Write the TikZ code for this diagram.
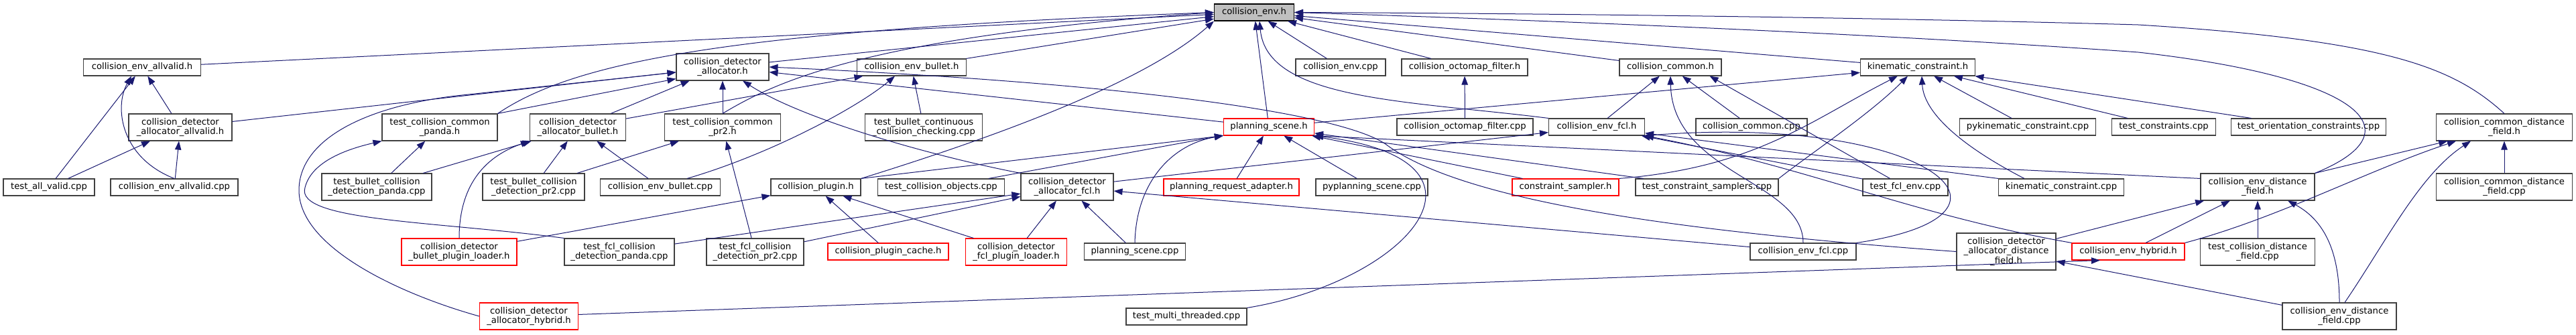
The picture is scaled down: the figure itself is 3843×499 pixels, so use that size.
\documentclass[tikz,border=0pt]{standalone}
\usepackage{fontspec}
\setmainfont{DejaVu Sans}
\usepackage{tikz}
\usetikzlibrary{arrows.meta}
\definecolor{edgeblue}{RGB}{25,25,112}
\definecolor{boxgray}{RGB}{191,191,191}
\definecolor{boxline}{RGB}{64,64,64}
\newcommand{\dxfont}{\fontsize{13.2}{14.5}\selectfont}

\begin{document}
\begin{tikzpicture}[x=1pt,y=-1pt,
  srcbox/.style={draw=boxline,line width=1.1pt,fill=white,inner sep=0pt,minimum height=25pt,align=center,font=\dxfont},
  redbox/.style={srcbox,draw=red},
  rootbox/.style={srcbox,draw=black,fill=boxgray},
  dep/.style={draw=edgeblue,line width=1pt,-{Triangle[length=13pt,width=9.5pt]}}]
\useasboundingbox (0,0) rectangle (3843,499);
% root
\node[rootbox,minimum width=119pt] (envh) at (1871,18.5) {collision\_env.h};
% first row
\node[srcbox,minimum width=175pt] (allvalidh) at (212,100.5) {collision\_env\_allvalid.h};
\node[srcbox,minimum width=138pt,minimum height=40pt] (allocatorh) at (1078,100) {collision\_detector\\\_allocator.h};
\node[srcbox,minimum width=163pt] (bulleth) at (1360,100.5) {collision\_env\_bullet.h};
\node[srcbox,minimum width=134pt] (envcpp) at (2000,100.5) {collision\_env.cpp};
\node[srcbox,minimum width=188pt] (octomaph) at (2185,100.5) {collision\_octomap\_filter.h};
\node[srcbox,minimum width=152pt] (commonh) at (2492,100.5) {collision\_common.h};
\node[srcbox,minimum width=171pt] (kinconh) at (2861,100.5) {kinematic\_constraint.h};
% second row
\node[srcbox,minimum width=154pt,minimum height=40pt] (allocallvalidh) at (269,190) {collision\_detector\\\_allocator\_allvalid.h};
\node[srcbox,minimum width=172pt,minimum height=40pt] (testcommonpandah) at (656,190) {test\_collision\_common\\\_panda.h};
\node[srcbox,minimum width=143pt,minimum height=40pt] (allocbulleth) at (862,190) {collision\_detector\\\_allocator\_bullet.h};
\node[srcbox,minimum width=173pt,minimum height=40pt] (testcommonpr2h) at (1078,190) {test\_collision\_common\\\_pr2.h};
\node[srcbox,minimum width=175pt,minimum height=40pt] (bulletcontcpp) at (1378,190) {test\_bullet\_continuous\\\_collision\_checking.cpp};
\node[redbox,minimum width=135pt] (planningsceneh) at (1893,189.5) {planning\_scene.h};
\node[srcbox,minimum width=203pt] (octomapcpp) at (2185.5,189.5) {collision\_octomap\_filter.cpp};
\node[srcbox,minimum width=143pt] (envfclh) at (2382,189.5) {collision\_env\_fcl.h};
\node[srcbox,minimum width=166pt] (commoncpp) at (2613,189.5) {collision\_common.cpp};
\node[srcbox,minimum width=203pt] (pykincpp) at (3025,189.5) {pykinematic\_constraint.cpp};
\node[srcbox,minimum width=155pt] (testconscpp) at (3228,189.5) {test\_constraints.cpp};
\node[srcbox,minimum width=231pt] (testoriencpp) at (3444,189.5) {test\_orientation\_constraints.cpp};
\node[srcbox,minimum width=203pt,minimum height=40pt] (commondfh) at (3736,190) {collision\_common\_distance\\\_field.h};
% third row
\node[srcbox,minimum width=136pt] (testallvalidcpp) at (73,279.5) {test\_all\_valid.cpp};
\node[srcbox,minimum width=190pt] (allvalidcpp) at (260,279.5) {collision\_env\_allvalid.cpp};
\node[srcbox,minimum width=164pt,minimum height=40pt] (bulletpandacpp) at (562,279) {test\_bullet\_collision\\\_detection\_panda.cpp};
\node[srcbox,minimum width=152pt,minimum height=40pt] (bulletpr2cpp) at (796,279) {test\_bullet\_collision\\\_detection\_pr2.cpp};
\node[srcbox,minimum width=179pt] (envbulletcpp) at (985,279.5) {collision\_env\_bullet.cpp};
\node[srcbox,minimum width=134pt] (pluginh) at (1217,279.5) {collision\_plugin.h};
\node[srcbox,minimum width=189pt] (testobjcpp) at (1404,279.5) {test\_collision\_objects.cpp};
\node[srcbox,minimum width=138pt,minimum height=40pt] (allocfclh) at (1592,279) {collision\_detector\\\_allocator\_fcl.h};
\node[redbox,minimum width=202pt] (requestadapterh) at (1837,279.5) {planning\_request\_adapter.h};
\node[srcbox,minimum width=167pt] (pyscenecpp) at (2046.5,279.5) {pyplanning\_scene.cpp};
\node[redbox,minimum width=159pt] (samplerh) at (2335.5,279.5) {constraint\_sampler.h};
\node[srcbox,minimum width=213pt] (testsamplerscpp) at (2546.5,279.5) {test\_constraint\_samplers.cpp};
\node[srcbox,minimum width=127pt] (testfclenvcpp) at (2842.5,279.5) {test\_fcl\_env.cpp};
\node[srcbox,minimum width=187pt] (kinconcpp) at (3075,279.5) {kinematic\_constraint.cpp};
\node[srcbox,minimum width=170pt,minimum height=40pt] (envdfh) at (3368,279) {collision\_env\_distance\\\_field.h};
\node[srcbox,minimum width=203pt,minimum height=40pt] (commondfcpp) at (3736,279) {collision\_common\_distance\\\_field.cpp};
% fourth row
\node[redbox,minimum width=172pt,minimum height=40pt] (bulletloaderh) at (685,376) {collision\_detector\\\_bullet\_plugin\_loader.h};
\node[srcbox,minimum width=164pt,minimum height=40pt] (fclpandacpp) at (924,376) {test\_fcl\_collision\\\_detection\_panda.cpp};
\node[srcbox,minimum width=145pt,minimum height=40pt] (fclpr2cpp) at (1126.5,376) {test\_fcl\_collision\\\_detection\_pr2.cpp};
\node[redbox,minimum width=180pt] (plugincacheh) at (1325,375.5) {collision\_plugin\_cache.h};
\node[redbox,minimum width=151pt,minimum height=40pt] (fclloaderh) at (1516,376) {collision\_detector\\\_fcl\_plugin\_loader.h};
\node[srcbox,minimum width=151pt] (scenecpp) at (1693,375.5) {planning\_scene.cpp};
\node[srcbox,minimum width=158pt] (envfclcpp) at (2690,375.5) {collision\_env\_fcl.cpp};
\node[srcbox,minimum width=148pt,minimum height=55pt] (allocdfh) at (2993,375.5) {collision\_detector\\\_allocator\_distance\\\_field.h};
\node[redbox,minimum width=168pt] (hybridh) at (3175,375.5) {collision\_env\_hybrid.h};
\node[srcbox,minimum width=171pt,minimum height=40pt] (testdfcpp) at (3368,376) {test\_collision\_distance\\\_field.cpp};
% bottom row
\node[redbox,minimum width=147pt,minimum height=40pt] (allochybridh) at (789,472) {collision\_detector\\\_allocator\_hybrid.h};
\node[srcbox,minimum width=180pt] (multithreadcpp) at (1770,472.5) {test\_multi\_threaded.cpp};
\node[srcbox,minimum width=170pt,minimum height=40pt] (envdfcpp) at (3490,472) {collision\_env\_distance\\\_field.cpp};

% into collision_env.h
\draw[dep] (allvalidh) -- (envh);
\draw[dep] (testcommonpandah.north east) .. controls (860,90) and (1100,45) .. (envh.west);
\draw[dep] (allocatorh) -- (envh);
\draw[dep] (testcommonpr2h.north) .. controls (1160,120) and (1300,55) .. (envh.west);
\draw[dep] (bulleth) -- (envh);
\draw[dep] (pluginh.north east) .. controls (1450,215) and (1700,130) .. (envh.south west);
\draw[dep] (planningsceneh) -- (envh);
\draw[dep] (envfclh.north west) .. controls (2100,150) and (1890,150) .. ([xshift=8pt]envh.south);
\draw[dep] (envcpp) -- (envh);
\draw[dep] (octomaph) -- (envh);
\draw[dep] (commonh) -- (envh);
\draw[dep] (kinconh) -- (envh);
\draw[dep] (envdfh.north east) .. controls (3610,195) and (3520,115) .. (3190,78) .. controls (2800,50) and (2300,30) .. (envh.east);
\draw[dep] (commondfh.north) .. controls (3660,100) and (3560,60) .. (3190,37) .. controls (2800,26) and (2300,20) .. (envh.east);
% into collision_env_allvalid.h
\draw[dep] (testallvalidcpp) -- (allvalidh);
\draw[dep] (allvalidcpp.north) .. controls (180,235) and (170,160) .. ([xshift=-16pt]allvalidh.south);
\draw[dep] (allocallvalidh) -- (allvalidh);
\draw[dep] (testallvalidcpp) -- (allocallvalidh);
\draw[dep] (allvalidcpp) -- (allocallvalidh);
% into collision_detector_allocator.h
\draw[dep] (allocallvalidh) -- (allocatorh);
\draw[dep] (allochybridh.west) .. controls (600,440) and (445,370) .. (446,283) .. controls (447,210) and (540,160) .. (680,143) -- ([yshift=-8pt]allocatorh.west);
\draw[dep] (testcommonpandah.north east) -- ([yshift=3pt]allocatorh.south west);
\draw[dep] (allocbulleth) -- (allocatorh);
\draw[dep] (testcommonpr2h) -- (allocatorh);
\draw[dep] (allocfclh.north west) .. controls (1400,235) and (1200,180) .. ([xshift=30pt]allocatorh.south);
\draw[dep] (planningsceneh) -- (allocatorh);
\draw[dep] (allocdfh.west) .. controls (2500,345) and (2180,300) .. (2067,215) .. controls (2000,170) and (1700,125) .. (allocatorh.east);
% into test_collision_common_panda.h
\draw[dep] (fclpandacpp.north west) .. controls (650,330) and (440,330) .. (455,280) .. controls (465,240) and (520,222) .. (testcommonpandah.south west);
\draw[dep] (bulletpandacpp) -- (testcommonpandah);
% into collision_detector_allocator_bullet.h
\draw[dep] (bulletpandacpp) -- (allocbulleth);
\draw[dep] (bulletloaderh.north) .. controls (685,280) and (720,235) .. (allocbulleth.south west);
\draw[dep] (bulletpr2cpp) -- (allocbulleth);
\draw[dep] (envbulletcpp) -- (allocbulleth);
% into collision_env_bullet.h
\draw[dep] (allocbulleth) -- (bulleth);
\draw[dep] ([xshift=40pt]envbulletcpp.north) .. controls (1150,230) and (1280,160) .. ([xshift=-25pt]bulleth.south);
\draw[dep] (bulletcontcpp) -- (bulleth);
% into test_collision_common_pr2.h
\draw[dep] (bulletpr2cpp) -- (testcommonpr2h);
\draw[dep] (fclpr2cpp) -- (testcommonpr2h);
% into collision_plugin.h
\draw[dep] (bulletloaderh) -- (pluginh);
\draw[dep] (plugincacheh) -- (pluginh);
\draw[dep] (fclloaderh) -- (pluginh);
% into collision_detector_allocator_fcl.h
\draw[dep] (fclpandacpp) -- (allocfclh);
\draw[dep] (fclpr2cpp) -- (allocfclh);
\draw[dep] (fclloaderh) -- (allocfclh);
\draw[dep] (scenecpp) -- (allocfclh);
\draw[dep] (envfclcpp) -- (allocfclh);
% into planning_scene.h
\draw[dep] (pluginh.north east) -- (planningsceneh.south west);
\draw[dep] (testobjcpp) -- (planningsceneh);
\draw[dep] (scenecpp.north) .. controls (1695,270) and (1750,215) .. (planningsceneh.south west);
\draw[dep] (requestadapterh) -- (planningsceneh);
\draw[dep] (pyscenecpp) -- (planningsceneh);
\draw[dep] (samplerh) -- (planningsceneh);
\draw[dep] (testsamplerscpp) -- (planningsceneh);
\draw[dep] (multithreadcpp.north east) .. controls (2100,420) and (2260,240) .. (planningsceneh.south east);
\draw[dep] ([yshift=-8pt]envdfh.north west) -- (planningsceneh.south east);
% into kinematic_constraint.h
\draw[dep] (planningsceneh) -- (kinconh);
\draw[dep] (samplerh.north east) .. controls (2620,250) and (2700,180) .. ([xshift=-30pt]kinconh.south);
\draw[dep] (testsamplerscpp.north east) .. controls (2700,230) and (2790,170) .. ([xshift=-15pt]kinconh.south);
\draw[dep] ([xshift=-55pt]kinconcpp.north) .. controls (2930,220) and (2870,170) .. ([xshift=6pt]kinconh.south);
\draw[dep] (pykincpp) -- (kinconh);
\draw[dep] (testconscpp) -- (kinconh);
\draw[dep] (testoriencpp) -- (kinconh);
% into collision_octomap_filter.h
\draw[dep] (octomapcpp) -- (octomaph);
% into collision_common.h
\draw[dep] (envfclh) -- (commonh);
\draw[dep] (envfclcpp.north) .. controls (2690,270) and (2495,260) .. (commonh.south);
\draw[dep] (commoncpp) -- (commonh);
\draw[dep] (testfclenvcpp) -- ([xshift=-18pt]commonh.south east);
% into collision_env_fcl.h
\draw[dep] (allocfclh) -- (envfclh);
\draw[dep] (testfclenvcpp) -- (envfclh);
\draw[dep] (kinconcpp.north west) -- (envfclh);
\draw[dep] (hybridh.north west) .. controls (2850,320) and (2700,250) .. (envfclh.south east);
\draw[dep] (envfclcpp.north east) .. controls (3060,320) and (2870,170) .. (envfclh.south east);
% into collision_env_hybrid.h
\draw[dep] (allochybridh) -- ([xshift=-42pt]hybridh.south);
% into collision_detector_allocator_distance_field.h
\draw[dep] (envdfcpp) -- (allocdfh);
% into collision_env_distance_field.h
\draw[dep] (allocdfh) -- (envdfh);
\draw[dep] (hybridh) -- (envdfh);
\draw[dep] (testdfcpp) -- (envdfh);
\draw[dep] (envdfcpp.north) .. controls (3490,380) and (3470,330) .. ([xshift=45pt]envdfh.south);
% into collision_common_distance_field.h
\draw[dep] (envdfh.north east) -- (commondfh);
\draw[dep] (hybridh.north east) .. controls (3400,325) and (3530,255) .. ([xshift=-72pt]commondfh.south);
\draw[dep] ([xshift=8pt]envdfcpp.north) .. controls (3560,360) and (3610,260) .. ([xshift=-50pt]commondfh.south);
\draw[dep] (commondfcpp) -- (commondfh);
\end{tikzpicture}
\end{document}
